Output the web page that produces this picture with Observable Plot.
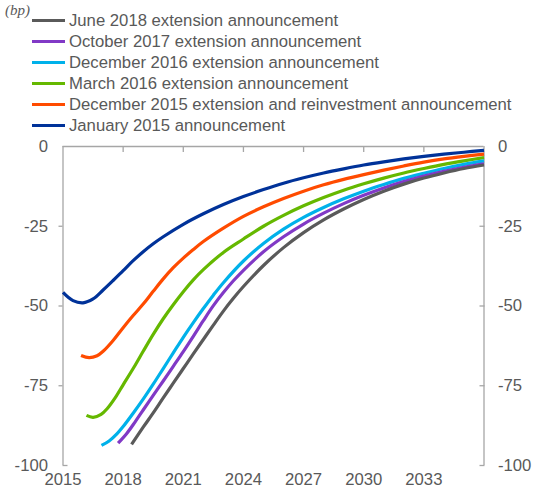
<!DOCTYPE html>
<html>
<head>
<meta charset="utf-8">
<script src="https://cdn.jsdelivr.net/npm/d3@7"></script>
<script src="https://cdn.jsdelivr.net/npm/@observablehq/plot@0.6"></script>
<style>
  html, body { margin: 0; padding: 0; background: #fff; }
  #wrap { position: relative; width: 533px; height: 493px; overflow: hidden; font-family: "Liberation Sans", Arial, sans-serif; color: #595959; }
  #unit { position: absolute; left: 5px; top: 1px; line-height: 18px; font-family: "Liberation Serif", "Times New Roman", serif; font-style: italic; font-size: 15px; color: #595959; }
  #legend { position: absolute; left: 32px; top: 10px; }
  .row { height: 21px; line-height: 21px; display: flex; align-items: center; font-size: 16.7px; white-space: nowrap; }
  .sw { width: 33px; height: 3px; margin-right: 4px; }
  #chart { position: absolute; left: 0; top: 135px; }
</style>
</head>
<body>
<div id="wrap">
  <div id="unit">(bp)</div>
  <div id="legend"></div>
  <div id="chart"></div>
</div>
<script>
// ---- data ----
const seriesNames = [
  "June 2018 extension announcement",
  "October 2017 extension announcement",
  "December 2016 extension announcement",
  "March 2016 extension announcement",
  "December 2015 extension and reinvestment announcement",
  "January 2015 announcement"
];
const seriesColors = ["#5a5a5a", "#8139c6", "#00b1ea", "#65b800", "#ff4b00", "#003299"];

const jun2018Year  = [2018.42, 2019.0, 2019.5, 2020.0, 2020.5, 2021.0, 2021.5, 2022.0, 2022.5, 2023.0, 2023.5, 2024.0, 2025.0, 2026.0, 2027.0, 2028.0, 2029.0, 2030.0, 2031.0, 2032.0, 2033.0, 2034.0, 2035.0, 2036.0];
const jun2018Value = [-93.4, -88.0, -83.5, -78.8, -74.2, -69.6, -65.0, -60.5, -56.0, -51.6, -47.6, -43.9, -37.3, -31.7, -27.0, -23.0, -19.6, -16.6, -14.0, -11.8, -9.9, -8.3, -6.9, -5.8];

const oct2017Year  = [2017.75, 2018.2, 2018.6, 2019.0, 2019.5, 2020.0, 2020.5, 2021.0, 2021.5, 2022.0, 2022.5, 2023.0, 2023.5, 2024.0, 2025.0, 2026.0, 2027.0, 2028.0, 2029.0, 2030.0, 2031.0, 2032.0, 2033.0, 2034.0, 2035.0, 2036.0];
const oct2017Value = [-93.0, -89.8, -86.3, -82.6, -78.0, -73.5, -68.9, -64.3, -59.5, -54.6, -49.9, -45.8, -42.1, -38.8, -33.0, -28.3, -24.3, -20.9, -17.9, -15.3, -13.0, -11.0, -9.3, -7.8, -6.5, -5.4];

const dec2016Year  = [2016.92, 2017.3, 2017.7, 2018.0, 2018.5, 2019.0, 2019.5, 2020.0, 2020.5, 2021.0, 2021.5, 2022.0, 2022.5, 2023.0, 2024.0, 2025.0, 2026.0, 2027.0, 2028.0, 2029.0, 2030.0, 2031.0, 2032.0, 2033.0, 2034.0, 2035.0, 2036.0];
const dec2016Value = [-93.7, -92.3, -90.0, -87.8, -83.6, -79.2, -74.5, -69.6, -64.7, -59.8, -55.2, -50.8, -46.6, -42.7, -35.9, -30.4, -25.9, -22.2, -19.1, -16.4, -14.0, -11.9, -10.0, -8.4, -6.9, -5.6, -4.5];

const mar2016Year  = [2016.17, 2016.5, 2016.9, 2017.2, 2017.6, 2018.0, 2018.5, 2019.0, 2019.5, 2020.0, 2020.5, 2021.0, 2021.5, 2022.0, 2023.0, 2024.0, 2025.0, 2026.0, 2027.0, 2028.0, 2029.0, 2030.0, 2031.0, 2032.0, 2033.0, 2034.0, 2035.0, 2036.0];
const mar2016Value = [-84.3, -84.9, -84.0, -82.2, -78.8, -74.7, -69.6, -64.2, -58.9, -54.0, -49.6, -45.5, -41.8, -38.6, -33.2, -29.0, -25.0, -21.6, -18.6, -16.0, -13.7, -11.7, -9.9, -8.3, -6.9, -5.6, -4.5, -3.5];

const dec2015Year  = [2015.9, 2016.3, 2016.7, 2017.0, 2017.5, 2018.0, 2018.5, 2019.0, 2019.5, 2020.0, 2020.5, 2021.0, 2021.5, 2022.0, 2023.0, 2024.0, 2025.0, 2026.0, 2027.0, 2028.0, 2029.0, 2030.0, 2031.0, 2032.0, 2033.0, 2034.0, 2035.0, 2036.0];
const dec2015Value = [-65.5, -66.2, -65.6, -64.2, -60.8, -56.8, -53.0, -49.4, -45.4, -41.5, -38.0, -35.0, -32.3, -29.8, -25.6, -21.9, -18.9, -16.3, -14.0, -12.0, -10.3, -8.8, -7.4, -6.1, -4.9, -3.9, -3.1, -2.4];

const jan2015Year  = [2015.0, 2015.5, 2016.0, 2016.5, 2017.0, 2017.5, 2018.0, 2018.5, 2019.0, 2019.5, 2020.0, 2021.0, 2022.0, 2023.0, 2024.0, 2025.0, 2026.0, 2027.0, 2028.0, 2029.0, 2030.0, 2031.0, 2032.0, 2033.0, 2034.0, 2035.0, 2036.0];
const jan2015Value = [-45.7, -48.3, -49.0, -47.8, -45.0, -42.0, -38.9, -35.8, -33.0, -30.5, -28.3, -24.4, -21.1, -18.2, -15.7, -13.5, -11.5, -9.8, -8.3, -7.0, -5.8, -4.8, -3.9, -3.1, -2.4, -1.8, -1.2];

const xDomain = [2015, 2036];
const yDomain = [-100, 0];
const xTickLabels = [2015, 2018, 2021, 2024, 2027, 2030, 2033];
const xInnerTicks = [2018, 2021, 2024, 2027, 2030, 2033];
const yTickLabels = [0, -25, -50, -75, -100];
const yMidTicks = [-25, -50, -75];

// ---- build table (draw order: first listed drawn first) ----
const seriesData = [
  [seriesNames[5], jan2015Year, jan2015Value],
  [seriesNames[4], dec2015Year, dec2015Value],
  [seriesNames[3], mar2016Year, mar2016Value],
  [seriesNames[2], dec2016Year, dec2016Value],
  [seriesNames[1], oct2017Year, oct2017Value],
  [seriesNames[0], jun2018Year, jun2018Value]
];
const rows = seriesData.flatMap(([name, ys, vs]) => ys.map((y, i) => ({series: name, year: y, value: vs[i]})));

// ---- legend ----
const legend = document.getElementById("legend");
seriesNames.forEach((n, i) => {
  const r = document.createElement("div");
  r.className = "row";
  r.innerHTML = `<span class="sw" style="background:${seriesColors[i]}"></span><span>${n}</span>`;
  legend.appendChild(r);
});

const axisColor = "#a6a6a6";
const chart = Plot.plot({
  width: 533,
  height: 358,
  marginTop: 11,
  marginBottom: 28,
  marginLeft: 62.5,
  marginRight: 49.5,
  style: {fontFamily: "'Liberation Sans', Arial, sans-serif", fontSize: "16.7px", color: "#595959", background: "transparent"},
  x: {domain: xDomain},
  y: {domain: yDomain},
  color: {domain: seriesNames, range: seriesColors},
  marks: [
    Plot.ruleX(xDomain, {y1: yDomain[0], y2: yDomain[1], stroke: axisColor, strokeWidth: 1.3}),
    Plot.ruleY([yDomain[1]], {stroke: axisColor, strokeWidth: 1.3}),
    Plot.axisX({anchor: "top", ticks: xInnerTicks, tickSize: -5, tickFormat: () => "", stroke: axisColor, strokeWidth: 1.3, label: null}),
    Plot.axisX({anchor: "bottom", ticks: xTickLabels, tickSize: 0, tickPadding: 8, tickFormat: d => String(d), fill: "#595959", fontSize: 16.7, label: null}),
    Plot.axisY({anchor: "left", ticks: yMidTicks, tickSize: 4, tickFormat: () => "", stroke: axisColor, strokeWidth: 1.3, label: null}),
    Plot.axisY({anchor: "left", ticks: [yDomain[0]], tickSize: -5, tickFormat: () => "", stroke: axisColor, strokeWidth: 1.3, label: null}),
    Plot.axisY({anchor: "right", ticks: yTickLabels.slice(1), tickSize: -5, tickFormat: () => "", stroke: axisColor, strokeWidth: 1.3, label: null}),
    Plot.axisY({anchor: "left", ticks: yTickLabels, tickSize: 0, tickPadding: 15, tickFormat: d => String(d), fill: "#595959", fontSize: 16.7, label: null}),
    Plot.axisY({anchor: "right", ticks: yTickLabels, tickSize: 0, tickPadding: 14, tickFormat: d => String(d), fill: "#595959", fontSize: 16.7, label: null}),
    Plot.line(rows, {x: "year", y: "value", z: "series", stroke: "series", curve: "catmull-rom", strokeWidth: 3.2, strokeLinecap: "butt"})
  ]
});
document.getElementById("chart").appendChild(chart);
</script>
</body>
</html>
